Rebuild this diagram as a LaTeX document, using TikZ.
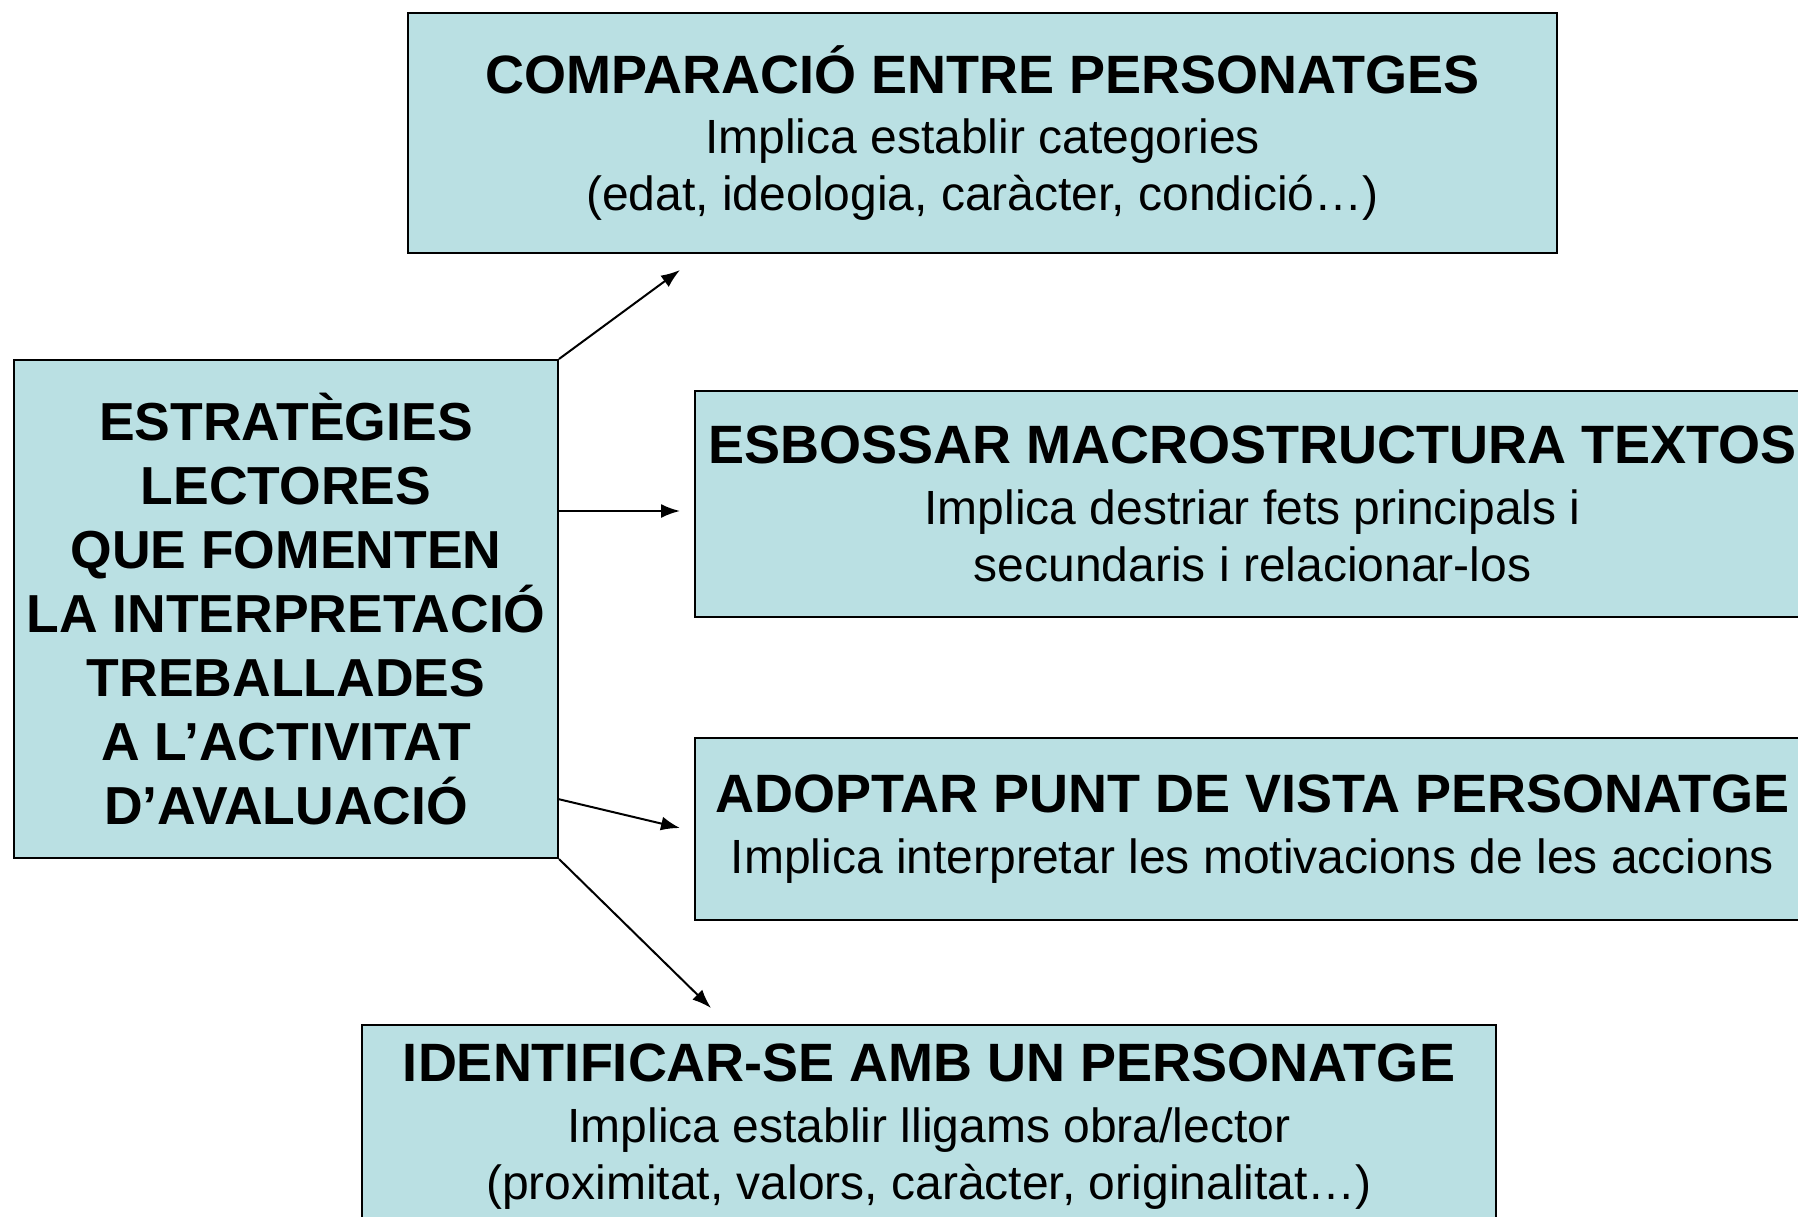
\documentclass[tikz,border=0pt]{standalone}
\usepackage{fontspec}
\setmainfont{Liberation Sans}
\usetikzlibrary{arrows.meta}
\definecolor{boxfill}{RGB}{186,224,227}
\tikzset{
  box/.style={draw=black, line width=2pt, fill=boxfill, inner sep=0pt, align=center,
    font=\fontsize{48}{57}\selectfont},
  conn/.style={line width=2pt, -{Latex[length=19pt,width=14pt]}}
}
\newcommand{\ttl}[1]{{\bfseries\fontsize{54}{61}\selectfont #1}}
\begin{document}
\begin{tikzpicture}[x=1pt,y=-1pt]
\useasboundingbox (0,0) rectangle (1798,1217);
\clip (0,0) rectangle (1798,1217);
\node[box, minimum width=1149pt, minimum height=240pt] (top) at (982.5,133)
  {\ttl{COMPARACIÓ ENTRE PERSONATGES}\\[3pt]
   Implica establir categories\\
   (edat, ideologia, caràcter, condició…)};
\node[box, minimum width=544pt, minimum height=498pt,
  font=\bfseries\fontsize{53.5}{64}\selectfont] (left) at (286,609)
  {ESTRATÈGIES\\ LECTORES\\ QUE FOMENTEN\\ LA INTERPRETACIÓ\\ TREBALLADES\\ A L’ACTIVITAT\\ D’AVALUACIÓ};
\node[box, minimum width=1115pt, minimum height=226pt] (mid) at (1252.5,504)
  {\ttl{ESBOSSAR MACROSTRUCTURA TEXTOS}\\[4pt]
   Implica destriar fets principals i\\
   secundaris i relacionar-los};
\node[box, minimum width=1115pt, minimum height=182pt] (third) at (1252.5,829)
  {\ttl{ADOPTAR PUNT DE VISTA PERSONATGE}\\[4pt]
   Implica interpretar les motivacions de les accions};
\node[box, minimum width=1134pt, minimum height=204pt] (bot) at (929,1127)
  {\ttl{IDENTIFICAR-SE AMB UN PERSONATGE}\\[4pt]
   Implica establir lligams obra/lector\\
   (proximitat, valors, caràcter, originalitat…)};
\coordinate (s2) at (558,511);
\coordinate (s3) at (558,799);
\coordinate (e1) at (680,270);
\coordinate (e2) at (680,511);
\coordinate (e3) at (680,828);
\coordinate (e4) at (711,1008);
\draw[conn] (left.north east) -- (e1);
\draw[conn] (s2) -- (e2);
\draw[conn] (s3) -- (e3);
\draw[conn] (left.south east) -- (e4);
\end{tikzpicture}
\end{document}
